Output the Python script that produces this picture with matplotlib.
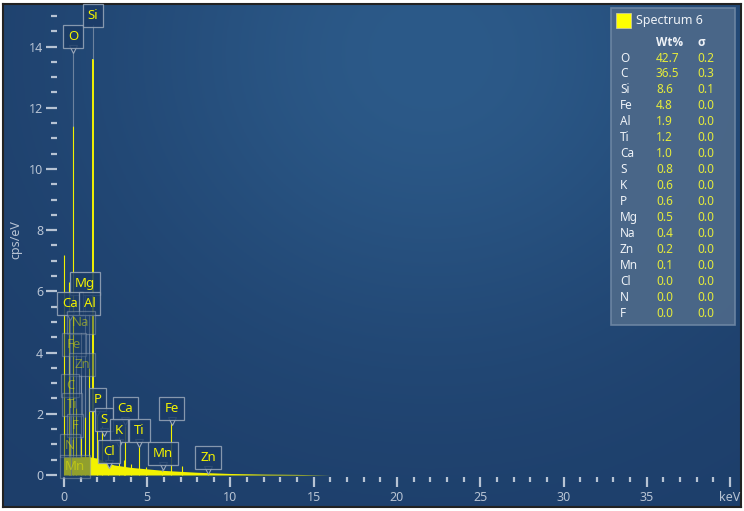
import numpy as np
import matplotlib.pyplot as plt
from matplotlib.patches import Rectangle

# --- data ---
# peak energies (keV) and peak heights (cps/eV)
peak_e = [0.02, 0.28, 0.39, 0.525, 0.705, 1.04, 1.25, 1.49, 1.74, 2.01, 2.31,
          2.62, 3.31, 3.59, 3.69, 4.01, 4.51, 4.93, 5.90, 6.40, 7.06, 8.64]
peak_h = [7.2, 6.3, 1.0, 11.4, 2.2, 1.2, 1.9, 3.5, 13.6, 2.2, 1.6,
          0.7, 1.25, 0.5, 1.6, 0.35, 1.05, 0.25, 0.12, 1.7, 0.3, 0.06]

# continuum under the peaks
bg_e = [0.0, 0.5, 1.0, 1.5, 2.0, 2.5, 3.0, 4.0, 5.0, 6.0, 7.0, 8.0, 9.0, 10.0, 12.0, 14.0, 16.0]
bg_y = [0.6, 0.6, 0.6, 0.6, 0.55, 0.42, 0.33, 0.25, 0.2, 0.15, 0.12, 0.09, 0.07, 0.05, 0.03, 0.02, 0.0]

# peak labels: element, label x (keV), label y (cps/eV), line energy, faded?
labels = [
    ("O", 0.54, 14.33, 0.525, False), ("Si", 1.74, 15.03, 1.74, False),
    ("Mg", 1.26, 6.27, 1.25, False), ("Ca", 0.36, 5.60, 0.34, False),
    ("Al", 1.53, 5.60, 1.49, False), ("Na", 1.02, 4.97, 1.04, True),
    ("Fe", 0.60, 4.25, 0.705, True), ("Zn", 1.08, 3.60, 1.01, True),
    ("C", 0.36, 2.94, 0.28, True), ("Ti", 0.48, 2.29, 0.45, True),
    ("F", 0.66, 1.63, 0.677, True), ("N", 0.36, 0.95, 0.39, True),
    ("Mn", 0.66, 0.28, 0.637, True),
    ("P", 2.01, 2.48, 2.01, False), ("S", 2.40, 1.80, 2.31, False),
    ("Ca", 3.69, 2.16, 3.69, False), ("K", 3.30, 1.45, 3.31, False),
    ("Ti", 4.53, 1.45, 4.51, False), ("Cl", 2.70, 0.78, 2.62, False),
    ("Fe", 6.46, 2.16, 6.40, False), ("Mn", 5.95, 0.69, 5.90, False),
    ("Zn", 8.65, 0.57, 8.64, False),
]
pointer_labels = {"O", "P", "S", "K", "Cl", "Mn", "Zn", "Fe", "Ti", "Ca"}

# quantification table
elements = ["O", "C", "Si", "Fe", "Al", "Ti", "Ca", "S", "K", "P", "Mg", "Na", "Zn", "Mn", "Cl", "N", "F"]
wt_pct = ["42.7", "36.5", "8.6", "4.8", "1.9", "1.2", "1.0", "0.8", "0.6", "0.6", "0.5", "0.4", "0.2", "0.1", "0.0", "0.0", "0.0"]
sigma = ["0.2", "0.3", "0.1", "0.0", "0.0", "0.0", "0.0", "0.0", "0.0", "0.0", "0.0", "0.0", "0.0", "0.0", "0.0", "0.0", "0.0"]

x_ticks = [0, 5, 10, 15, 20, 25, 30, 35, 40]
x_ticklabels = ["0", "5", "10", "15", "20", "25", "30", "35", "keV"]
y_ticks = [0, 2, 4, 6, 8, 10, 12, 14]

# --- style ---
plt.rcParams['font.family'] = ['Noto Sans', 'DejaVu Sans']
W, H = 744, 511
TICK = '#b7c3d3'
YEL = '#f2f200'
FACE = '#1b3b66'
EDGE = '#9aa8ba'

fig = plt.figure(figsize=(W / 100, H / 100), dpi=100, facecolor='white')

# gradient background inside the frame
bg_ax = fig.add_axes([3 / W, 4 / H, 738 / W, 503 / H])
gx, gy = np.meshgrid(np.linspace(0, 1, 300), np.linspace(0, 1, 200))
glow = np.exp(-((gx - 0.58) ** 2 / 0.2 + (gy - 0.1) ** 2 / 0.35))
dark = np.array([0x1d, 0x3e, 0x6a]) / 255
light = np.array([0x2c, 0x5a, 0x89]) / 255
img = dark + glow[..., None] * (light - dark)
bg_ax.imshow(img, aspect='auto', extent=[0, 1, 0, 1], origin='upper')
bg_ax.set_xticks([])
bg_ax.set_yticks([])
for s in bg_ax.spines.values():
    s.set_color('#222222')
    s.set_linewidth(1.5)

# main axes
ax = fig.add_axes([57 / W, (H - 477) / H, (735 - 57) / W, (477 - 4) / H])
ax.set_facecolor('none')
ax.set_xlim(-0.42, 40.3)
ax.set_ylim(-0.065, 15.39)
for s in ax.spines.values():
    s.set_visible(False)

# continuum + peaks
ax.fill_between(bg_e, 0, bg_y, color=YEL, lw=0, zorder=2)
for e, h in zip(peak_e, peak_h):
    lw = 1.4 if h > 12 else 0.8
    ax.vlines(e, 0, h, color=YEL, lw=lw, zorder=3)

# ticks
ax.set_xticks(x_ticks)
ax.set_xticklabels(x_ticklabels)
ax.set_xticks(np.arange(0, 41, 1), minor=True)
ax.set_yticks(y_ticks)
ax.set_yticks(np.arange(0, 15.01, 0.5), minor=True)
ax.tick_params(axis='both', which='both', colors=TICK, labelcolor=TICK, labelsize=9, width=1.6)
ax.tick_params(axis='y', which='major', length=8, pad=2)
ax.tick_params(axis='y', which='minor', length=4)
ax.tick_params(axis='x', which='major', length=7, pad=3)
ax.tick_params(axis='x', which='minor', length=3.5)
ax.set_ylabel("cps/eV", color=TICK, fontsize=9)
ax.yaxis.set_label_coords((22 - 57) / 678, (477 - 240) / 473)

# peak labels with leader lines
half_h = 10 / 30.6
for name, lx, ly, le, faded in labels:
    a = 0.45 if faded else 1.0
    bottom = ly - half_h
    if name in pointer_labels and not faded:
        ax.plot(lx, bottom - 0.08, marker='v', ms=6, mfc=FACE, mec=EDGE, mew=0.8,
                zorder=6, clip_on=False)
        top = bottom - 0.2
    else:
        top = bottom
    h_peak = 0
    for e, h in zip(peak_e, peak_h):
        if abs(e - le) < 0.06:
            h_peak = h
    if top > h_peak:
        ax.plot([le, le], [top, h_peak], color='#8d9cb1', lw=0.8, alpha=0.7, zorder=4)
    ax.text(lx, ly, name, color=YEL, fontsize=9.5, ha='center', va='center', alpha=a,
            zorder=7, clip_on=False,
            bbox=dict(boxstyle='square,pad=0.38', fc=FACE, ec=EDGE, lw=0.9,
                      alpha=0.85 if not faded else 0.45))

# quantification panel
def fx(px):
    return px / W

def fy(py):
    return 1 - py / H

fig.patches.append(Rectangle((fx(611), fy(325)), (735 - 611) / W, (325 - 8) / H,
                             transform=fig.transFigure, fc='#4c6889', ec='#6d86a3', lw=1.2, alpha=0.95))
fig.patches.append(Rectangle((fx(616), fy(28)), 15 / W, 15 / H, transform=fig.transFigure,
                             fc='#ffff00', ec='#c8c8a0', lw=0.6))
fig.text(fx(636), fy(20.5), "Spectrum 6", color='#eef2f7', fontsize=9, va='center')
fig.text(fx(656), fy(42), "Wt%", color='#eef2f7', fontsize=8.5, va='center',
         fontweight='bold', family=['Open Sans', 'DejaVu Sans'])
fig.text(fx(697), fy(42), "σ", color='#eef2f7', fontsize=8.5, va='center',
         fontweight='bold', family=['Open Sans', 'DejaVu Sans'])
for i, (el, wv, sv) in enumerate(zip(elements, wt_pct, sigma)):
    yy = fy(58 + i * 15.94)
    fig.text(fx(620), yy, el, color='#eef2f7', fontsize=8.5, va='center')
    fig.text(fx(656), yy, wv, color='#e6ec3a', fontsize=8.5, va='center')
    fig.text(fx(697), yy, sv, color='#e6ec3a', fontsize=8.5, va='center')

fig.savefig('out.png', dpi=100, facecolor='white')
